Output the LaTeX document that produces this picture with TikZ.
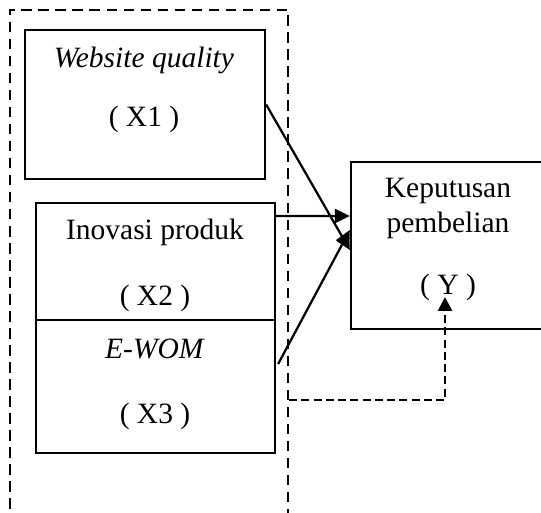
\documentclass[tikz,border=0pt]{standalone}
\usepackage{fontspec}
\setmainfont{Liberation Serif}
\usetikzlibrary{arrows.meta}

\begin{document}
\begin{tikzpicture}[
    x=0.4pt, y=-0.4pt,
    font=\fontsize{11.8}{14}\selectfont,
    var/.style={draw, line width=0.9pt, inner sep=0pt},
    group/.style={draw, line width=0.9pt, dash pattern=on 4.2pt off 2.6pt, inner sep=0pt},
    arrow/.style={-{Triangle[length=6pt, width=5.6pt]}, line width=0.9pt},
    link/.style={-{Triangle[length=5.5pt, width=5.5pt]}, line width=1.1pt, dash pattern=on 3.2pt off 1.7pt}
]
    \clip (0,0) rectangle (541,513);
    % dashed frame round X1..X3
    \node[group, minimum width=111.2pt, minimum height=208pt] (grp) at (149,270) {};

    \node[var, minimum width=96pt, minimum height=59.6pt] (x1) at (145,104.5) {};
    \node[var, minimum width=95.6pt, minimum height=46.8pt] (x2) at (155.5,261.5) {};
    \node[var, minimum width=95.6pt, minimum height=53.2pt] (x3) at (155.5,386.5) {};
    \node[var, minimum width=84pt, minimum height=66.8pt] (kep) at (456,245.5) {};

    \node (x1name) at (144,60) {\textit{Website quality}};
    \node (x1code) at (144,119) {( X1 )};
    \node (x2name) at (155,232) {Inovasi produk};
    \node (x2code) at (155,298) {( X2 )};
    \node (x3name) at (155,349) {\textit{E-WOM}};
    \node (x3code) at (155,416) {( X3 )};
    \node[align=center] (kepname) at (448,208) {Keputusan\\pembelian};
    \node (kepcode) at (448,287) {( Y )};

    % partial effects
    \draw[arrow] (x1.east) -- ([yshift=-1.8pt]kep.west);
    \draw[arrow] ([yshift=18.2pt]x2.east) -- ([yshift=11.8pt]kep.west);
    \draw[arrow] ([xshift=0.8pt,yshift=9pt]x3.east) -- ([yshift=6.2pt]kep.west);

    % simultaneous effect
    \coordinate (bend) at (445,400);
    \coordinate (ytip) at (445,297);
    \draw[link] (grp.east |- bend) -- (bend) -- (ytip);
\end{tikzpicture}
\end{document}
